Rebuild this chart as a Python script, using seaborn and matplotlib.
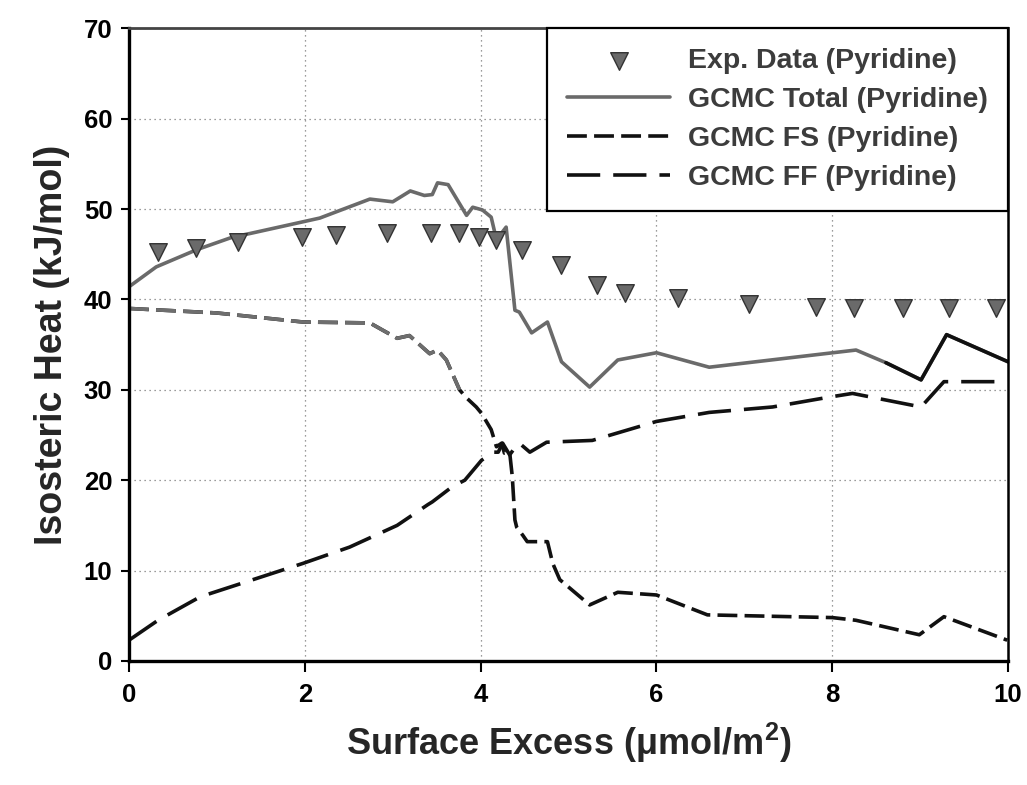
import numpy as np
import pandas as pd
import seaborn as sns
import matplotlib.pyplot as plt

# experimental points
exp_x = [0.33, 0.76, 1.24, 1.97, 2.36, 2.94, 3.44, 3.75, 3.98, 4.18, 4.47,
         4.91, 5.32, 5.64, 6.25, 7.05, 7.81, 8.25, 8.80, 9.33, 9.86]
exp_y = [45.3, 45.7, 46.3, 46.9, 47.1, 47.3, 47.4, 47.3, 46.9, 46.6, 45.5,
         43.8, 41.6, 40.7, 40.2, 39.5, 39.2, 39.0, 39.0, 39.0, 39.0]

# GCMC total
tot_x = [0.0, 0.31, 0.77, 1.18, 1.38, 2.17, 2.74, 3.0, 3.2, 3.36, 3.45, 3.51,
         3.63, 3.84, 3.91, 4.02, 4.12, 4.18, 4.29, 4.39, 4.44, 4.58, 4.76,
         4.92, 5.24, 5.56, 6.0, 6.6, 8.27, 8.61, 9.01, 9.3, 10.0]
tot_y = [41.4, 43.6, 45.5, 46.9, 47.3, 49.0, 51.1, 50.8, 52.0, 51.5, 51.6, 52.9,
         52.7, 49.3, 50.2, 49.9, 49.1, 46.6, 48.0, 38.8, 38.6, 36.3, 37.5,
         33.1, 30.3, 33.3, 34.1, 32.5, 34.4, 33.0, 31.1, 36.1, 33.1]

# GCMC fluid-solid
fs_x = [0.0, 1.0, 1.98, 2.74, 3.05, 3.19, 3.42, 3.51, 3.61, 3.76, 3.84, 3.95,
        4.01, 4.12, 4.18, 4.24, 4.27, 4.33, 4.36, 4.39, 4.41, 4.48, 4.53,
        4.76, 4.82, 4.9, 5.24, 5.56, 6.0, 6.58, 8.0, 8.27, 8.99, 9.27, 9.99]
fs_y = [39.0, 38.5, 37.5, 37.4, 35.7, 36.0, 34.0, 34.4, 33.3, 30.0, 29.1, 28.1,
        27.4, 25.6, 23.7, 24.1, 23.0, 23.1, 20.4, 15.6, 14.8, 13.9, 13.2,
        13.2, 10.8, 9.0, 6.2, 7.6, 7.3, 5.1, 4.8, 4.5, 2.9, 4.9, 2.3]

# GCMC fluid-fluid
ff_x = [0.0, 0.33, 0.81, 1.98, 2.51, 3.05, 3.4, 3.45, 3.68, 3.82, 4.01, 4.14,
        4.2, 4.25, 4.33, 4.39, 4.44, 4.56, 4.75, 5.27, 6.0, 6.6, 7.32, 7.97,
        8.23, 9.01, 9.27, 9.99]
ff_y = [2.3, 4.5, 7.1, 10.8, 12.6, 15.0, 17.3, 17.6, 19.3, 20.0, 22.2, 23.1,
        23.1, 24.1, 22.8, 23.6, 24.1, 23.1, 24.2, 24.4, 26.5, 27.5, 28.1, 29.2,
        29.6, 28.1, 30.9, 30.9]

sns.set_style("white")
plt.rcParams['font.family'] = ['Liberation Sans', 'DejaVu Sans']
plt.rcParams['font.weight'] = 'bold'
plt.rcParams['mathtext.fontset'] = 'custom'
plt.rcParams['mathtext.rm'] = 'Liberation Sans:bold'
plt.rcParams['mathtext.it'] = 'Liberation Sans:bold'
plt.rcParams['mathtext.bf'] = 'Liberation Sans:bold'

fig = plt.figure(figsize=(10.27, 7.85), dpi=100)
ax = fig.add_axes([0.1256, 0.158, 0.856, 0.806])

lw = 2.6
fs_dash = (0, (5.5, 2.0))
ff_dash = (0, (9.2, 3.6))

sns.scatterplot(x=exp_x, y=exp_y, marker='v', s=160, color='#6a6a6a',
                edgecolor='#333333', linewidth=1.0, ax=ax, zorder=5,
                label='Exp. Data (Pyridine)')
sns.lineplot(x=tot_x, y=tot_y, color='#6a6a6a', linewidth=lw, ax=ax,
             label='GCMC Total (Pyridine)')
sns.lineplot(x=fs_x, y=fs_y, color='#111111', linewidth=lw, linestyle=fs_dash,
             ax=ax, label='GCMC FS (Pyridine)')
sns.lineplot(x=ff_x, y=ff_y, color='#111111', linewidth=lw, linestyle=ff_dash,
             ax=ax, label='GCMC FF (Pyridine)')

# scan tones: upper part of FS is grey, tail of total is black
n_fs = 10
ax.plot(fs_x[:n_fs], fs_y[:n_fs], color='#6e6e6e', linewidth=lw, linestyle=fs_dash)
n_tot = 29
ax.plot(tot_x[n_tot:], tot_y[n_tot:], color='#111111', linewidth=lw)

ax.set_xlim(0, 10)
ax.set_ylim(0, 70)
ax.set_xticks(np.arange(0, 11, 2))
ax.set_yticks(np.arange(0, 71, 10))
ax.grid(True, color='#7a7a7a', linestyle=(0, (1, 3)), linewidth=0.9)
ax.tick_params(axis='both', labelsize=18.5, colors='black', direction='out',
               width=1.5)
ax.tick_params(axis='y', length=6, pad=6)
ax.tick_params(axis='x', length=8, pad=8)
ax.xaxis.set_ticks_position('bottom')
ax.yaxis.set_ticks_position('left')
for lab in ax.get_xticklabels() + ax.get_yticklabels():
    lab.set_fontweight('bold')

for side in ['left', 'bottom']:
    ax.spines[side].set_linewidth(2.4)
    ax.spines[side].set_color('black')
ax.spines['top'].set_linewidth(2.0)
ax.spines['top'].set_color('#444444')
ax.spines['right'].set_linewidth(1.8)
ax.spines['right'].set_color('black')

ax.set_xlabel(r'Surface Excess (μmol/m$^{2}$)', fontsize=26, fontweight='bold',
              labelpad=10)
ax.set_ylabel('Isosteric Heat (kJ/mol)', fontsize=27, fontweight='bold',
              labelpad=10)

leg = ax.legend(loc='upper right', bbox_to_anchor=(1, 1), borderaxespad=0,
                handlelength=3.6, handletextpad=0.65,
                labelspacing=0.45, borderpad=0.7, fancybox=False,
                framealpha=1, edgecolor='black', scatterpoints=1,
                prop={'weight': 'bold', 'size': 20.5})
leg.get_frame().set_linewidth(1.6)
for t in leg.get_texts():
    t.set_color('#3c3c3c')

fig.savefig('out.png', dpi=100)
